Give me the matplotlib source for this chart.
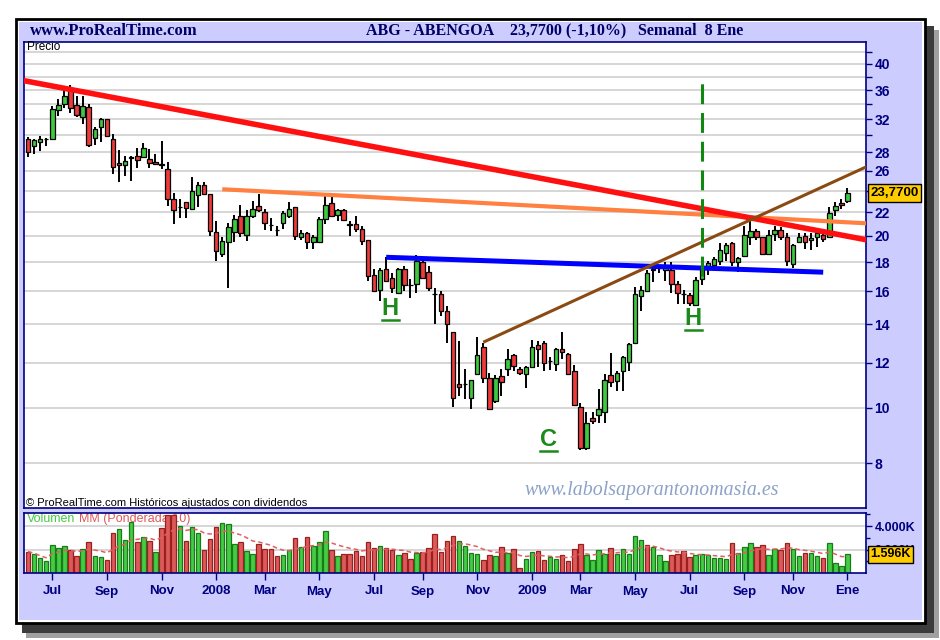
"""ABG - Abengoa weekly candles with trend lines and volume (ProRealTime style)."""
import matplotlib.pyplot as plt
import numpy as np
import pandas as pd
from matplotlib.patches import Rectangle
from matplotlib.ticker import FixedLocator, FixedFormatter, NullFormatter
from matplotlib.transforms import offset_copy

plt.rcParams["font.family"] = ["Liberation Sans", "DejaVu Sans"]

W, H = 940, 640
NAVY = "#000080"

# Weekly bars, first week starts 4 Jun 2007
opens = [
    29.5, 28.7, 29.2, 29.5, 29.6, 33.2, 34.0, 36.1, 33.9, 32.3,
    33.6, 29.7, 31.0, 32.0, 29.6, 26.8, 26.6, 27.4, 27.6, 27.5,
    27.3, 26.9, 26.7, 26.2, 23.2, 22.5, 22.9, 22.3, 23.6, 24.6,
    23.7, 20.3, 18.6, 19.5, 20.3, 21.7, 20.1, 21.7, 22.6, 22.0,
    20.9, 20.5, 21.1, 21.7, 22.5, 19.9, 20.2, 19.5, 19.5, 21.4,
    22.8, 21.8, 22.2, 21.0, 21.0, 20.6, 19.7, 17.1, 16.1, 17.5,
    16.9, 15.9, 17.5, 16.4, 16.5, 18.0, 17.3, 15.8, 15.8, 14.8,
    13.6, 11.0, 11.0, 10.4, 11.45, 12.8, 11.3, 10.3, 11.35, 11.7,
    12.4, 11.7, 11.45, 11.8, 12.9, 13.0, 12.1, 11.95, 12.7, 12.45,
    11.6, 10.05, 8.5, 9.6, 9.7, 9.85, 11.4, 11.15, 11.6, 12.05,
    13.0, 15.7, 16.05, 17.5, 17.6, 17.4, 17.45, 16.45, 15.8, 15.75,
    15.15, 16.8, 17.75, 17.8, 18.05, 18.7, 19.45, 18.0, 18.45, 19.95,
    20.4, 19.9, 18.6, 20.15, 20.5, 19.95, 17.85, 19.5, 20.0, 19.7,
    19.95, 20.1, 19.9, 22.2, 22.8, 23.0,
]
highs = [
    29.8, 29.5, 29.9, 29.7, 33.7, 34.8, 36.0, 36.7, 35.1, 35.1,
    34.0, 31.0, 32.2, 32.1, 30.2, 28.3, 27.6, 27.6, 28.5, 29.1,
    28.4, 27.8, 29.3, 26.9, 23.8, 23.2, 22.9, 25.4, 24.9, 24.9,
    23.7, 21.2, 19.9, 21.1, 21.8, 22.7, 22.2, 23.0, 23.7, 22.3,
    21.5, 20.8, 22.1, 22.9, 22.5, 20.5, 20.3, 20.1, 21.6, 23.5,
    23.5, 22.3, 22.3, 21.2, 21.7, 20.8, 19.7, 17.5, 17.6, 18.4,
    17.2, 17.6, 17.7, 16.8, 18.5, 18.2, 17.7, 16.2, 16.0, 15.1,
    13.6, 13.1, 11.7, 11.2, 13.3, 13.0, 11.5, 11.4, 11.7, 12.7,
    12.45, 11.8, 11.85, 13.15, 13.1, 13.1, 12.3, 12.75, 13.6, 12.5,
    11.9, 10.2, 9.85, 9.85, 10.8, 11.45, 12.5, 11.6, 12.35, 13.0,
    16.3, 16.35, 17.45, 17.7, 17.8, 18.0, 18.0, 16.65, 16.1, 15.9,
    16.95, 17.75, 18.1, 18.4, 19.45, 19.45, 19.5, 18.4, 20.8, 21.2,
    20.6, 19.95, 20.5, 20.8, 20.75, 20.2, 19.35, 20.2, 20.2, 20.2,
    20.5, 20.5, 22.45, 22.9, 23.2, 24.3,
]
lows = [
    27.5, 27.8, 28.2, 28.7, 29.5, 32.4, 33.5, 32.8, 32.3, 31.4,
    28.6, 28.9, 29.2, 29.8, 25.7, 24.9, 25.5, 25.0, 26.3, 27.5,
    26.3, 26.6, 26.2, 22.6, 21.0, 21.5, 21.5, 22.2, 22.5, 23.6,
    20.0, 18.1, 18.4, 16.2, 19.5, 19.9, 19.6, 21.5, 22.0, 20.5,
    20.4, 20.0, 20.6, 21.5, 19.7, 19.7, 19.0, 19.0, 19.5, 21.0,
    21.6, 21.2, 21.2, 20.0, 20.3, 19.3, 16.7, 16.0, 15.4, 16.7,
    15.9, 15.9, 16.0, 15.6, 15.9, 16.8, 16.0, 14.0, 14.5, 13.0,
    10.05, 10.5, 10.35, 9.97, 11.45, 11.05, 9.95, 10.2, 10.5, 11.35,
    11.6, 11.4, 10.85, 11.8, 11.8, 11.6, 11.65, 11.6, 12.2, 11.45,
    10.1, 8.45, 8.45, 9.37, 9.4, 9.4, 10.9, 10.7, 10.7, 11.6,
    13.0, 14.8, 16.0, 16.6, 17.2, 16.7, 15.9, 15.2, 15.2, 15.1,
    15.15, 16.4, 17.1, 17.75, 17.8, 18.05, 17.75, 17.3, 18.45, 19.25,
    19.7, 18.55, 18.6, 19.6, 19.7, 17.7, 17.55, 19.45, 19.0, 18.9,
    19.1, 19.5, 19.9, 21.7, 22.3, 22.8,
]
closes = [
    28.0, 29.4, 29.5, 29.6, 33.3, 33.9, 35.1, 33.5, 32.5, 33.7,
    28.9, 30.8, 32.0, 29.9, 26.4, 26.6, 27.1, 27.5, 27.2, 28.5,
    26.8, 26.7, 26.6, 23.2, 22.2, 22.5, 22.4, 24.0, 24.6, 23.7,
    20.4, 18.8, 19.6, 20.7, 21.4, 20.2, 21.7, 22.3, 22.2, 21.1,
    20.9, 20.5, 21.9, 22.3, 20.0, 20.2, 19.5, 19.9, 21.4, 22.7,
    21.7, 22.2, 21.3, 20.9, 20.6, 19.6, 17.0, 16.0, 17.4, 16.7,
    16.2, 17.5, 16.4, 16.4, 18.1, 16.9, 16.2, 15.8, 14.8, 14.0,
    10.4, 10.9, 11.0, 11.2, 12.4, 11.3, 9.97, 11.3, 11.1, 12.2,
    11.85, 11.5, 11.8, 12.8, 12.7, 12.0, 12.1, 12.7, 12.55, 11.45,
    10.1, 8.5, 9.4, 9.5, 9.95, 11.2, 11.1, 11.5, 12.3, 12.95,
    15.8, 16.1, 17.2, 17.4, 17.7, 17.7, 16.5, 15.9, 15.8, 15.25,
    16.75, 17.4, 17.9, 18.2, 18.9, 19.3, 18.0, 18.3, 20.1, 20.4,
    19.9, 18.6, 20.1, 20.5, 19.95, 18.1, 19.3, 19.9, 19.5, 19.8,
    20.2, 19.75, 21.95, 22.55, 22.65, 23.77,
]
# volume in thousands of shares
volumes = [
    1824, 1625, 1254, 1026, 2394, 2138, 2309, 1967, 1454, 2052,
    2651, 1454, 1368, 1112, 3420, 3762, 2822, 4304, 2651, 3050,
    2736, 1796, 3848, 4960, 4960, 4018, 2736, 3905, 3420, 1967,
    2907, 3933, 4275, 4190, 2480, 2651, 1881, 1625, 2480, 2052,
    2052, 1454, 1539, 1967, 2993, 2223, 3078, 2309, 2622, 3562,
    1938, 1425, 1596, 1596, 1881, 1425, 2622, 2109, 2280, 2109,
    1967, 1510, 1681, 1168, 1681, 1767, 2109, 3306, 1767, 2708,
    3135, 2708, 2280, 1681, 1596, 1083, 1510, 1425, 2195, 1681,
    2024, 399, 1168, 1767, 1853, 1083, 1340, 1168, 1510, 998,
    2024, 2451, 1510, 1083, 1938, 1596, 2109, 1596, 2024, 1596,
    3135, 2793, 2366, 2195, 1510, 998, 1510, 1596, 1853, 1340,
    1510, 1596, 1510, 1254, 1254, 1168, 2537, 1681, 2195, 2537,
    2195, 2366, 1510, 2024, 1967, 2537, 2024, 1425, 1681, 1681,
    1425, 1254, 2537, 827, 570, 1596,
]
# g = volume bar drawn green, r = red
vol_dir = (
    "rggggggrrg" "rggrrgggrg" "rgrrrgrggr" "rrgggrggrr" "rrggrgrggg"
    "rgrrrrrrgr" "rgrrgrrrrr" "rggggrrgrg" "rrggrrggrr" "rrggggrggg"
    "ggrgggrrrr" "ggggggrggg" "rrggrrggrg" "grgggg"
)
tick_months = [
    "2007-07", "2007-09", "2007-11", "2008-01", "2008-03", "2008-05",
    "2008-07", "2008-09", "2008-11", "2009-01", "2009-03", "2009-05",
    "2009-07", "2009-09", "2009-11", "2010-01",
]
tick_labels = [
    "Jul", "Sep", "Nov", "2008", "Mar", "May", "Jul", "Sep", "Nov",
    "2009", "Mar", "May", "Jul", "Sep", "Nov", "Ene",
]
price_ticks = [8, 10, 12, 14, 16, 18, 20, 22, 24, 26, 28, 32, 36, 40]
price_minor = [30, 34, 38, 42]

# trend lines as (bar index, price) end points
trend_red = [(-1, 37.45), (139, 19.61)]
trend_orange = [(32, 24.14), (139, 21.02)]
trend_blue = [(59, 18.35), (131, 17.28)]
trend_brown = [(75, 13.03), (139, 26.69)]
signal_week = 111
signal_range = (17.0, 37.8)
# pattern letters: (bar index, price, letter)
letters = [(59.7, 14.9, "H"), (109.6, 14.36, "H"), (85.7, 8.82, "C")]

n = len(closes)
assert len(opens) == len(highs) == len(lows) == n == len(volumes) == len(vol_dir)

x = np.arange(n)
o, h, l, c = (np.array(a) for a in (opens, highs, lows, closes))
vol = np.array(volumes, dtype=float)

# weighted moving average (period 10) of volume
wma = np.empty(n)
for i in range(n):
    win = vol[max(0, i - 9): i + 1]
    w = np.arange(1, len(win) + 1)
    wma[i] = (win * w).sum() / w.sum()

dates = pd.date_range("2007-06-04", periods=n, freq="7D")
tick_pos = [
    int(np.argmax((dates.year == int(m[:4])) & (dates.month == int(m[5:]))))
    for m in tick_months
]


def box(x0, y0, x1, y1):
    return [x0 / W, 1 - y1 / H, (x1 - x0) / W, (y1 - y0) / H]


def frame(x0, y0, x1, y1, **kw):
    fig.add_artist(Rectangle((x0 / W, 1 - y1 / H), (x1 - x0) / W, (y1 - y0) / H,
                             transform=fig.transFigure, **kw))


fig = plt.figure(figsize=(W / 100, H / 100), dpi=100)
fig.patch.set_facecolor("white")

# window shadow and frame
frame(26, 30, 939, 638, fc="#a0a0a0", ec="none", zorder=0)
frame(22, 26, 934, 633, fc="#3c3c3c", ec="none", zorder=0)
frame(15.5, 18.5, 925, 623, fc="white", ec="black", lw=2, zorder=0)
frame(19, 21.5, 921.5, 620, fc="#ccccff", ec="none", zorder=0)

serif = ["Liberation Serif", "DejaVu Serif"]
fig.text(30 / W, 1 - 31 / H, "www.ProRealTime.com", family=serif, size=12,
         weight="bold", color="#000066", va="center")
for xt, s in [(366, "ABG - ABENGOA"), (510, "23,7700 (-1,10%)"), (638, "Semanal  8 Ene")]:
    fig.text(xt / W, 1 - 31 / H, s, family=serif, size=11.5, weight="bold",
             color="#000066", va="center")

# price panel
ax = fig.add_axes(box(23.5, 42, 866, 508))
ax.set_yscale("log")
ax.set_xlim(-0.74, 138.05)
ax.set_ylim(6.68, 43.7)

up = c >= o
lo_b = np.minimum(o, c)
hi_b = np.maximum(o, c)
ax.vlines(x, l, h, color="black", lw=1.4, zorder=3)
ax.bar(x, hi_b - lo_b, bottom=lo_b, width=0.74,
       color=np.where(up, "#3ec83e", "#ee3a3a"), edgecolor="black", lw=0.9, zorder=4)

for pts, col, lw in [(trend_orange, "#ff8040", 3.0), (trend_red, "#ff1010", 4.0),
                     (trend_blue, "#0000ff", 3.6), (trend_brown, "#8b4a12", 2.2)]:
    ax.plot([p[0] for p in pts], [p[1] for p in pts], color=col, lw=lw,
            solid_capstyle="butt", zorder=5)
ax.plot([signal_week, signal_week], signal_range, color="#118811", lw=2.2,
        dashes=(6.5, 2.9), zorder=5)

for xi, pi, s in letters:
    ax.text(xi, pi, s, color="#1b8a1b", size=17, weight="bold", ha="center",
            va="center", zorder=6)
    under = offset_copy(ax.transData, fig=fig, x=0, y=-11.5, units="dots")
    ax.plot([xi - 1.4, xi + 1.4], [pi, pi], color="#1b8a1b", lw=1.8,
            transform=under, zorder=6)

ax.yaxis.tick_right()
ax.yaxis.set_major_locator(FixedLocator(price_ticks))
ax.yaxis.set_major_formatter(FixedFormatter([str(t) for t in price_ticks]))
ax.yaxis.set_minor_locator(FixedLocator(price_minor))
ax.yaxis.set_minor_formatter(NullFormatter())
ax.tick_params(axis="y", which="major", direction="out", length=4, width=1,
               colors=NAVY, labelsize=10, pad=2)
ax.tick_params(axis="y", which="minor", direction="out", length=4, width=1, colors=NAVY)
for t in ax.get_yticklabels():
    t.set_fontweight("bold")
ax.tick_params(axis="x", bottom=False, labelbottom=False)
ax.grid(axis="y", which="both", color="#d6d6d6", lw=1.4)
ax.set_axisbelow(True)
for sp in ax.spines.values():
    sp.set_color(NAVY)
    sp.set_linewidth(1.2)

ax.text(27 / W, 1 - 47 / H, "Precio", transform=fig.transFigure, size=8.5,
        va="center", zorder=7)
ax.text(26 / W, 1 - 503 / H, "\u00a9 ProRealTime.com Hist\u00f3ricos ajustados con dividendos",
        transform=fig.transFigure, size=8, va="center", zorder=7)
ax.text(652 / W, 1 - 490 / H, "www.labolsaporantonomasia.es", transform=fig.transFigure,
        family=serif, style="italic", size=14.3, color="#8da2c8", ha="center",
        va="center", zorder=7)
ax.annotate(f"{closes[-1]:.4f}".replace(".", ","), xy=(1.0, closes[-1]),
            xycoords=("axes fraction", "data"), xytext=(3, 0),
            textcoords="offset points", ha="left", va="center", size=9.5,
            weight="bold", annotation_clip=False, zorder=10,
            bbox=dict(boxstyle="square,pad=0.2", fc="#ffcc00", ec="black", lw=1))

# volume panel
av = fig.add_axes(box(23.5, 512.5, 866, 573))
av.set_xlim(-0.74, 138.05)
av.set_ylim(0, 5150)
is_up = np.array([d == "g" for d in vol_dir])
av.bar(x, vol, width=0.74, color=np.where(is_up, "#44cc44", "#dd5a5a"),
       edgecolor=np.where(is_up, "#1a7a1a", "#9a2020"), lw=0.9, zorder=2)
av.plot(x, wma, color="#e06060", lw=1.1, dashes=(3, 2), zorder=3)

av.text(27 / W, 1 - 519 / H, "Volumen", transform=fig.transFigure, size=9,
        color="#44cc44", va="center", zorder=1)
av.text(79 / W, 1 - 519 / H, "MM (Ponderada 10)", transform=fig.transFigure,
        size=9, color="#dd5a5a", va="center", zorder=1)

av.yaxis.tick_right()
av.yaxis.set_major_locator(FixedLocator([2000, 4000]))
av.yaxis.set_major_formatter(FixedFormatter(["2.000K", "4.000K"]))
av.yaxis.set_minor_locator(FixedLocator([1000, 3000, 5000]))
av.tick_params(axis="y", which="major", direction="out", length=4, width=1,
               colors=NAVY, labelsize=9, pad=2)
av.tick_params(axis="y", which="minor", direction="out", length=3, width=1, colors=NAVY)
for t in av.get_yticklabels():
    t.set_fontweight("bold")
av.set_xticks(tick_pos)
av.set_xticklabels(tick_labels)
av.tick_params(axis="x", direction="out", length=5, width=1, colors=NAVY,
               labelsize=9.5, pad=4)
for t in av.get_xticklabels():
    t.set_fontweight("bold")
av.grid(axis="y", which="major", color="#d6d6d6", lw=1.4)
av.set_axisbelow(True)
for sp in av.spines.values():
    sp.set_color(NAVY)
    sp.set_linewidth(1.2)

av.annotate(f"{volumes[-1] / 1000:.3f}K", xy=(1.0, volumes[-1]),
            xycoords=("axes fraction", "data"), xytext=(3, 0),
            textcoords="offset points", ha="left", va="center", size=9,
            weight="bold", annotation_clip=False, zorder=10,
            bbox=dict(boxstyle="square,pad=0.2", fc="#ffcc00", ec="black", lw=1))

fig.savefig("out.png", dpi=100)
